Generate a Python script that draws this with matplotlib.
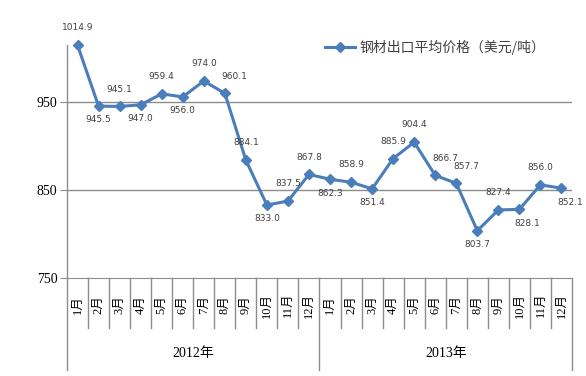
import matplotlib
matplotlib.use("Agg")
import matplotlib.pyplot as plt
import numpy as np

# monthly average steel export price (USD/ton)
months = ["1月", "2月", "3月", "4月", "5月", "6月", "7月", "8月", "9月", "10月", "11月", "12月"]
years = ["2012年", "2013年"]
prices_2012 = [1014.9, 945.5, 945.1, 947.0, 959.4, 956.0, 974.0, 960.1, 884.1, 833.0, 837.5, 867.8]
prices_2013 = [862.3, 858.9, 851.4, 885.9, 904.4, 866.7, 857.7, 803.7, 827.4, 828.1, 856.0, 852.1]
series_name = "钢材出口平均价格（美元/吨）"

# where each data label sits: a = above, b = below, r = above-right, br = below-right
label_pos = ["a", "b", "a", "b", "a", "b", "a", "r", "a", "b", "a", "a",
             "b", "a", "b", "a", "a", "r", "r", "b", "a", "br", "a", "br"]

prices = prices_2012 + prices_2013
x = np.arange(len(prices))

cjk = ["Liberation Serif", "Noto Sans CJK SC"]
grey = "#8c8c8c"
blue = "#4A7EBB"

fig = plt.figure(figsize=(5.86, 3.76), dpi=100)
ax = fig.add_axes([67 / 586, 1 - 278 / 376, 505 / 586, 233 / 376])

ax.plot(x, prices, color=blue, lw=2.2, marker="D", ms=5.5, clip_on=False,
        label=series_name, zorder=3)

offsets = {"a": (0, 12.5), "b": (0, -10), "r": (7, 12), "br": (6, -10)}
for xi, v, p in zip(x, prices, label_pos):
    dx, dy = offsets[p]
    ax.annotate("%.1f" % v, (xi, v), xytext=(dx, dy), textcoords="offset points",
                ha="center", va="center", fontsize=6.5, color="#404040")

ax.set_xlim(-0.5, len(prices) - 0.5)
ax.set_ylim(750, 1015)
ax.set_yticks([750, 850, 950])
ax.set_yticklabels(["750", "850", "950"], fontsize=10, family="Liberation Serif")
ax.tick_params(axis="y", length=5, color=grey, pad=2)
ax.set_xticks([])
for v in [850, 950]:
    ax.axhline(v, color=grey, lw=1, zorder=1)
for s in ["top", "right"]:
    ax.spines[s].set_visible(False)
ax.spines["bottom"].set_color(grey)
ax.spines["left"].set_visible(False)

# category axis drawn by hand: month boxes and year groups
tr = ax.get_xaxis_transform()
ax.plot([-0.5, -0.5], [1, -0.395], transform=tr, color=grey, lw=1, clip_on=False)
for i in range(len(prices)):
    b = i + 0.5
    low = -0.395 if (i + 1) % 12 == 0 else -0.2146
    ax.plot([b, b], [0, low], transform=tr, color=grey, lw=1, clip_on=False)
    ax.text(i, -0.116, months[i % 12], transform=tr, rotation=90, ha="center",
            va="center", fontsize=9, family=cjk, color="black")
for k, yr in enumerate(years):
    ax.text(12 * k + 5.5, -0.322, yr, transform=tr, ha="center", va="center",
            fontsize=10, family=cjk, color="black")

leg = ax.legend(loc="upper left", bbox_to_anchor=(312 / 586, 1 - 27 / 376),
                bbox_transform=fig.transFigure, frameon=False, handlelength=2.2,
                handletextpad=0.3, prop={"family": "Noto Sans CJK SC", "size": 10})
for t in leg.get_texts():
    t.set_color("#404040")

fig.savefig("out.png", dpi=100)
